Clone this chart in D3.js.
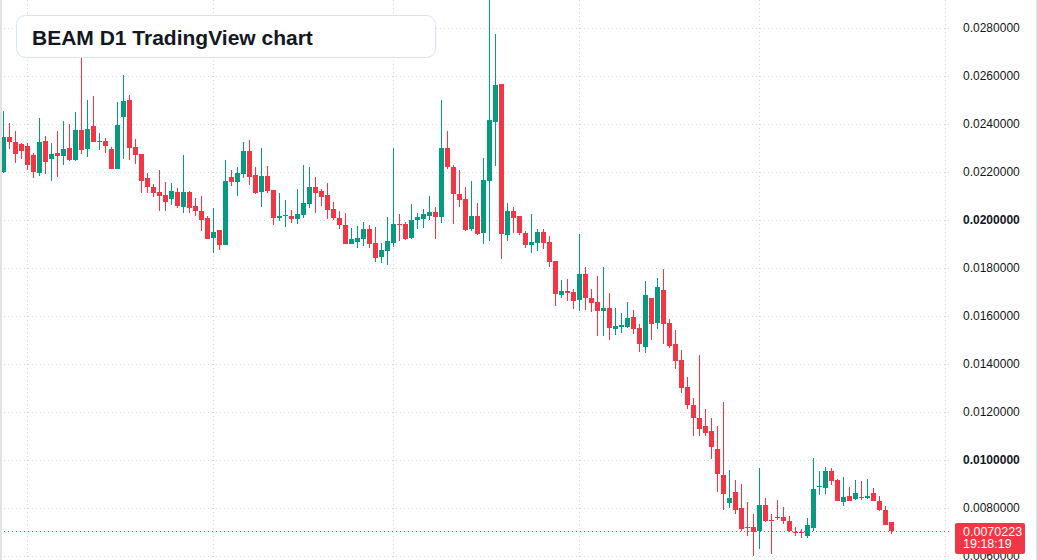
<!DOCTYPE html>
<html>
<head>
<meta charset="utf-8">
<script src="https://cdn.jsdelivr.net/npm/d3@7"></script>
<style>
  body { margin: 0; background: #fff; }
  svg { display: block; font-family: "Liberation Sans", Arial, sans-serif; }
</style>
</head>
<body>
<div id="chart"></div>
<script>
// BEAM daily candles
var firstDay = new Date(Date.UTC(2025, 1, 25));

var opens = [0.02200,0.02346,0.02325,0.02318,0.02308,0.02271,0.02197,0.02329,0.02255,0.02279,
  0.02268,0.02300,0.02250,0.02375,0.02297,0.02392,0.02328,0.02329,0.02296,0.02214,
  0.02430,0.02500,0.02304,0.02275,0.02175,0.02138,0.02117,0.02104,0.02089,0.02117,
  0.02055,0.02117,0.02058,0.02039,0.02010,0.01926,0.01960,0.01897,0.02179,0.02158,
  0.02193,0.02288,0.02188,0.02118,0.02183,0.02125,0.02010,0.02017,0.02017,0.02005,
  0.02022,0.02068,0.02138,0.02121,0.02104,0.02047,0.02010,0.01980,0.01901,0.01910,
  0.01922,0.01964,0.01905,0.01847,0.01872,0.01905,0.01985,0.01985,0.01926,0.02001,
  0.02005,0.02018,0.02033,0.02014,0.02300,0.02221,0.02108,0.02088,0.01963,0.02017,
  0.01946,0.02163,0.02408,0.02567,0.01938,0.02038,0.02017,0.01946,0.01896,0.01904,
  0.01950,0.01908,0.01829,0.01688,0.01704,0.01701,0.01668,0.01776,0.01676,0.01660,
  0.01622,0.01635,0.01547,0.01555,0.01555,0.01597,0.01551,0.01472,0.01676,0.01572,
  0.01710,0.01572,0.01485,0.01418,0.01305,0.01230,0.01176,0.01143,0.01122,0.01046,
  0.00938,0.00822,0.00868,0.00801,0.00722,0.00722,0.00705,0.00814,0.00751,0.00764,
  0.00764,0.00747,0.00701,0.00701,0.00685,0.00718,0.00889,0.00885,0.00955,0.00918,
  0.00826,0.00851,0.00839,0.00847,0.00843,0.00864,0.00830,0.00793,0.00743];

var highs = [0.02454,0.02404,0.02371,0.02322,0.02320,0.02280,0.02425,0.02350,0.02321,0.02371,
  0.02413,0.02400,0.02450,0.02674,0.02500,0.02517,0.02363,0.02342,0.02303,0.02492,
  0.02604,0.02521,0.02338,0.02276,0.02197,0.02150,0.02208,0.02158,0.02154,0.02133,
  0.02271,0.02121,0.02092,0.02100,0.02017,0.02051,0.01960,0.02250,0.02208,0.02221,
  0.02325,0.02333,0.02221,0.02300,0.02225,0.02126,0.02113,0.02083,0.02042,0.02129,
  0.02229,0.02221,0.02179,0.02130,0.02154,0.02076,0.02039,0.02030,0.01968,0.01976,
  0.01993,0.01980,0.01972,0.01905,0.02014,0.02301,0.02026,0.01993,0.02068,0.02030,
  0.02047,0.02101,0.02054,0.02500,0.02371,0.02229,0.02208,0.02138,0.02163,0.02071,
  0.02258,0.02960,0.02775,0.02567,0.02071,0.02054,0.02017,0.01954,0.02025,0.01963,
  0.01963,0.01933,0.01829,0.01750,0.01754,0.01714,0.01943,0.01804,0.01714,0.01768,
  0.01804,0.01697,0.01635,0.01613,0.01660,0.01626,0.01568,0.01747,0.01677,0.01760,
  0.01797,0.01589,0.01543,0.01460,0.01347,0.01260,0.01439,0.01214,0.01176,0.01143,
  0.01243,0.00960,0.00918,0.00901,0.00826,0.00776,0.00968,0.00843,0.00776,0.00835,
  0.00805,0.00768,0.00722,0.00714,0.00760,0.01010,0.00955,0.00972,0.00968,0.00922,
  0.00930,0.00889,0.00918,0.00914,0.00922,0.00885,0.00851,0.00810,0.00743];

var lows = [0.02197,0.02297,0.02239,0.02254,0.02208,0.02176,0.02185,0.02193,0.02164,0.02180,
  0.02230,0.02247,0.02247,0.02276,0.02263,0.02323,0.02293,0.02280,0.02212,0.02212,
  0.02255,0.02251,0.02235,0.02114,0.02114,0.02097,0.02039,0.02038,0.02064,0.02051,
  0.02030,0.02030,0.02018,0.01955,0.01920,0.01864,0.01876,0.01896,0.02142,0.02101,
  0.02176,0.02147,0.02108,0.02055,0.02113,0.01980,0.01997,0.01972,0.01989,0.01985,
  0.02010,0.02051,0.02030,0.02060,0.02005,0.02001,0.01964,0.01900,0.01900,0.01885,
  0.01893,0.01885,0.01826,0.01822,0.01814,0.01889,0.01914,0.01918,0.01922,0.01964,
  0.01968,0.02001,0.01922,0.01989,0.02214,0.01985,0.02055,0.01954,0.01954,0.01938,
  0.01900,0.01913,0.02226,0.01838,0.01913,0.01946,0.01938,0.01883,0.01863,0.01871,
  0.01879,0.01804,0.01642,0.01675,0.01663,0.01629,0.01622,0.01626,0.01618,0.01518,
  0.01518,0.01501,0.01522,0.01530,0.01550,0.01526,0.01451,0.01447,0.01501,0.01547,
  0.01485,0.01468,0.01380,0.01280,0.01214,0.01101,0.01101,0.01101,0.01005,0.00868,
  0.00793,0.00801,0.00776,0.00705,0.00685,0.00601,0.00630,0.00743,0.00610,0.00751,
  0.00735,0.00701,0.00685,0.00676,0.00676,0.00705,0.00855,0.00860,0.00897,0.00830,
  0.00810,0.00829,0.00835,0.00835,0.00839,0.00829,0.00789,0.00729,0.00693];

var closes = [0.02346,0.02326,0.02276,0.02289,0.02230,0.02200,0.02325,0.02243,0.02275,0.02268,
  0.02296,0.02251,0.02375,0.02293,0.02379,0.02326,0.02330,0.02310,0.02214,0.02396,
  0.02496,0.02301,0.02272,0.02164,0.02139,0.02114,0.02102,0.02075,0.02121,0.02060,
  0.02117,0.02051,0.02039,0.02001,0.01922,0.01950,0.01897,0.02163,0.02158,0.02196,
  0.02288,0.02180,0.02113,0.02183,0.02121,0.02010,0.02017,0.02021,0.02005,0.02025,
  0.02071,0.02138,0.02114,0.02097,0.02043,0.02010,0.01980,0.01901,0.01922,0.01926,
  0.01964,0.01901,0.01843,0.01876,0.01914,0.01985,0.01980,0.01922,0.02001,0.02014,
  0.02026,0.02035,0.02014,0.02300,0.02222,0.02110,0.02085,0.01958,0.02017,0.01942,
  0.02167,0.02417,0.02563,0.01942,0.02038,0.02008,0.01946,0.01896,0.01908,0.01950,
  0.01904,0.01825,0.01692,0.01704,0.01696,0.01664,0.01776,0.01676,0.01655,0.01622,
  0.01635,0.01551,0.01558,0.01561,0.01593,0.01547,0.01485,0.01689,0.01568,0.01722,
  0.01568,0.01476,0.01414,0.01301,0.01230,0.01176,0.01130,0.01114,0.01055,0.00943,
  0.00860,0.00843,0.00793,0.00714,0.00718,0.00701,0.00814,0.00747,0.00747,0.00760,
  0.00747,0.00705,0.00697,0.00697,0.00730,0.00880,0.00893,0.00955,0.00914,0.00830,
  0.00847,0.00830,0.00864,0.00843,0.00851,0.00830,0.00793,0.00730,0.0070223];

var priceTicks = [0.006,0.008,0.010,0.012,0.014,0.016,0.018,0.020,0.022,0.024,0.026,0.028];
var boldTicks = [0.010, 0.020];
var lastPrice = 0.0070223;
var countdown = "19:18:19";
var title = "BEAM D1 TradingView chart";

var width = 1037, height = 560, paneWidth = 950;
var upColor = "#089981", downColor = "#f23645";

var svg = d3.select("#chart").append("svg")
    .attr("width", width)
    .attr("height", height);

var days = opens.map(function(d, i) { return d3.utcDay.offset(firstDay, i); });
var candles = opens.map(function(o, i) {
    return { date: days[i], open: o, high: highs[i], low: lows[i], close: closes[i] };
});

var x = d3.scaleUtc()
    .domain([days[0], days[days.length - 1]])
    .range([3.5, 3.5 + 6 * (days.length - 1)]);

var y = d3.scaleLinear()
    .domain([0.006, 0.028])
    .range([556, 28]);

// grid
var grid = svg.append("g")
    .attr("stroke", "#d3d6dd")
    .attr("stroke-dasharray", "1,3");

grid.selectAll("line.h")
    .data(priceTicks)
    .enter().append("line")
    .attr("class", "h")
    .attr("x1", 0)
    .attr("x2", paneWidth)
    .attr("y1", function(d) { return Math.round(y(d)) + 0.5; })
    .attr("y2", function(d) { return Math.round(y(d)) + 0.5; });

var months = d3.utcMonth.range(days[0], d3.utcDay.offset(days[days.length - 1], 12));
grid.selectAll("line.v")
    .data(months)
    .enter().append("line")
    .attr("class", "v")
    .attr("x1", function(d) { return Math.floor(x(d)) + 0.5; })
    .attr("x2", function(d) { return Math.floor(x(d)) + 0.5; })
    .attr("y1", 0)
    .attr("y2", height);

// candles
var candle = svg.append("g")
    .selectAll("g")
    .data(candles)
    .enter().append("g")
    .attr("fill", function(d) { return d.close >= d.open ? upColor : downColor; })
    .attr("stroke", function(d) { return d.close >= d.open ? upColor : downColor; });

candle.append("line")
    .attr("x1", function(d) { return x(d.date); })
    .attr("x2", function(d) { return x(d.date); })
    .attr("y1", function(d) { return Math.round(y(d.high)); })
    .attr("y2", function(d) { return Math.round(y(d.low)); })
    .attr("stroke-width", 1);

candle.append("rect")
    .attr("stroke", "none")
    .attr("x", function(d) { return x(d.date) - 2.5; })
    .attr("width", 5)
    .attr("y", function(d) { return Math.round(y(Math.max(d.open, d.close))); })
    .attr("height", function(d) {
        return Math.max(1, Math.round(y(Math.min(d.open, d.close))) - Math.round(y(Math.max(d.open, d.close))));
    });

// last price line
svg.append("line")
    .attr("x1", 0)
    .attr("x2", paneWidth)
    .attr("y1", Math.round(y(lastPrice)) + 0.5)
    .attr("y2", Math.round(y(lastPrice)) + 0.5)
    .attr("stroke", downColor)
    .attr("stroke-dasharray", "1,3");

// price axis
var fmt = d3.format(".7f");
svg.append("g")
    .attr("font-size", 12)
    .attr("fill", "#131722")
    .selectAll("text")
    .data(priceTicks)
    .enter().append("text")
    .attr("x", 963)
    .attr("y", function(d) { return y(d); })
    .attr("dy", "0.36em")
    .attr("font-weight", function(d) { return boldTicks.indexOf(d) >= 0 ? "bold" : "normal"; })
    .text(fmt);

var tag = svg.append("g")
    .attr("transform", "translate(955," + (Math.round(y(lastPrice)) - 8) + ")");
tag.append("rect")
    .attr("width", 70)
    .attr("height", 31)
    .attr("rx", 2)
    .attr("fill", downColor);
tag.append("text")
    .attr("x", 8)
    .attr("y", 13)
    .attr("font-size", 12.5)
    .attr("fill", "#fff")
    .text(fmt(lastPrice));
tag.append("text")
    .attr("x", 8)
    .attr("y", 25)
    .attr("font-size", 12.5)
    .attr("fill", "#fff")
    .text(countdown);

// borders
svg.append("line")
    .attr("x1", 1).attr("x2", 1)
    .attr("y1", 0).attr("y2", height)
    .attr("stroke", "#e3e3e3")
    .attr("stroke-width", 2);
svg.append("line")
    .attr("x1", width - 0.5).attr("x2", width - 0.5)
    .attr("y1", 0).attr("y2", height)
    .attr("stroke", "#e0e3eb");

// title box
svg.append("rect")
    .attr("x", 16.5)
    .attr("y", 15.5)
    .attr("width", 419)
    .attr("height", 42)
    .attr("rx", 9)
    .attr("fill", "rgba(255,255,255,0.92)")
    .attr("stroke", "#d6e3f7");
svg.append("text")
    .attr("x", 32)
    .attr("y", 44.5)
    .attr("font-size", 21)
    .attr("font-weight", "bold")
    .attr("fill", "#131722")
    .text(title);
</script>
</body>
</html>
